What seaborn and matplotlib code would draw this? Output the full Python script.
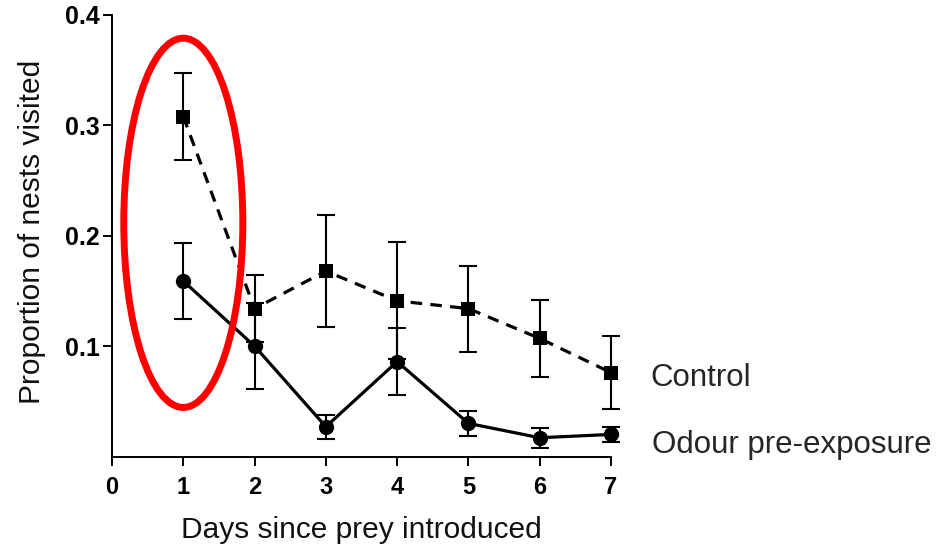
import matplotlib
matplotlib.use("Agg")
import matplotlib.pyplot as plt
from matplotlib.patches import Ellipse
import numpy as np
import pandas as pd
import seaborn as sns

# Days since prey introduced
days = [1, 2, 3, 4, 5, 6, 7]

# Control group: mean proportion of nests visited and standard error
control_mean = [0.308, 0.134, 0.168, 0.141, 0.134, 0.107, 0.076]
control_sem = [0.039, 0.030, 0.051, 0.053, 0.039, 0.035, 0.033]

# Odour pre-exposure group
odour_mean = [0.159, 0.100, 0.027, 0.086, 0.030, 0.017, 0.020]
odour_sem = [0.034, 0.039, 0.011, 0.030, 0.0115, 0.009, 0.007]

x_ticks = [0, 1, 2, 3, 4, 5, 6, 7]
y_ticks = [0.1, 0.2, 0.3, 0.4]
y_tick_labels = ["0.1", "0.2", "0.3", "0.4"]

sns.set_theme(style="ticks")
plt.rcParams["font.family"] = ["Liberation Sans", "DejaVu Sans"]

df = pd.DataFrame({
    "day": days * 2,
    "prop": control_mean + odour_mean,
    "group": ["Control"] * 7 + ["Odour pre-exposure"] * 7,
})

fig = plt.figure(figsize=(9.39, 5.46), dpi=100)
ax = fig.add_axes([112 / 939, 1 - 456.5 / 546, (611 - 112) / 939, (456.5 - 15) / 546])

# Error bars (standard error of the mean)
for mean, sem in [(control_mean, control_sem), (odour_mean, odour_sem)]:
    ax.errorbar(days, mean, yerr=sem, fmt="none", ecolor="black",
                elinewidth=1.5, capsize=6.5, capthick=1.5, clip_on=False, zorder=2)

ctrl = df[df["group"] == "Control"]
odour = df[df["group"] == "Odour pre-exposure"]

sns.lineplot(data=ctrl, x="day", y="prop", ax=ax, color="black", linewidth=2.3,
             marker="s", markersize=10.5, markeredgewidth=0, dashes=False,
             clip_on=False, zorder=3)
ax.lines[-1].set_dashes((3.6, 2.6))

sns.lineplot(data=odour, x="day", y="prop", ax=ax, color="black", linewidth=2.3,
             marker="o", markersize=11, markeredgewidth=0,
             clip_on=False, zorder=3)

ax.set_xlim(0, 7)
ax.set_ylim(0, 0.4)
ax.set_xticks(x_ticks)
ax.set_xticklabels([str(t) for t in x_ticks], fontsize=17, fontweight="bold")
ax.set_yticks(y_ticks)
ax.set_yticklabels(y_tick_labels, fontsize=18, fontweight="bold")
ax.tick_params(axis="both", direction="out", length=6.5, width=1.4, color="black",
               labelcolor="black")
ax.tick_params(axis="x", pad=7.5)
ax.tick_params(axis="y", pad=2)

for side in ["top", "right"]:
    ax.spines[side].set_visible(False)
for side in ["left", "bottom"]:
    ax.spines[side].set_color("black")
    ax.spines[side].set_linewidth(1.4)

ax.set_xlabel("Days since prey introduced", fontsize=21.5, labelpad=12.5, color="#111111")
ax.set_ylabel("Proportion of nests visited", fontsize=21.5, labelpad=14, color="#111111")
ax.yaxis.label.set_y(0.509)

# Series labels placed beside the last points
ax.text(7.55, 0.071, "Control", fontsize=22.5, va="center", ha="left",
        transform=ax.transData, clip_on=False)
ax.text(7.58, 0.010, "Odour pre-exposure", fontsize=22.5, va="center", ha="left",
        transform=ax.transData, clip_on=False)

# Highlight around day 1
ell = Ellipse((1.0, 0.2117), width=1.67, height=0.3345, fill=False,
              edgecolor="#ff0000", linewidth=5.0, clip_on=False, zorder=5)
ax.add_patch(ell)

fig.savefig("out.png", dpi=100)
